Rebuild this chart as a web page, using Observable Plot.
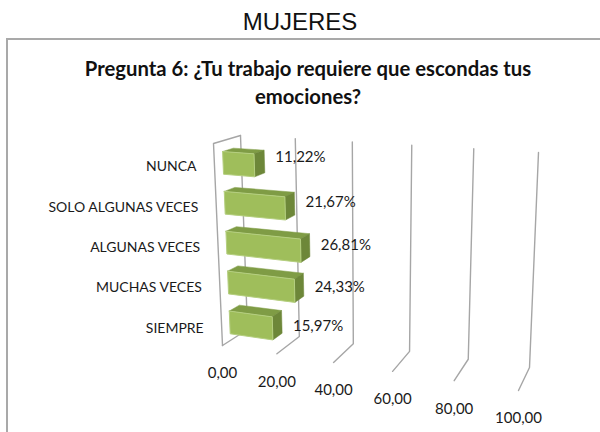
<!DOCTYPE html>
<html><head><meta charset="utf-8">
<script src="https://cdn.jsdelivr.net/npm/d3@7"></script>
<script src="https://cdn.jsdelivr.net/npm/@observablehq/plot@0.6"></script>
<style>
html,body{margin:0;padding:0;background:#fff;width:600px;height:432px;overflow:hidden}
#top{height:38px;text-align:center;font:24px/44px "Liberation Sans",Arial,sans-serif;color:#111}
#panel{box-sizing:border-box;width:600px;margin-left:6px;height:394px;border-left:2px solid #a9a9a9;border-top:2px solid #a9a9a9;overflow:hidden}
#sub{height:75px;width:600px;text-align:center;font:bold 20.3px/28px Lato,sans-serif;color:#111;padding-top:14px;box-sizing:border-box}
svg{display:block}
</style></head>
<body>
<div id="top">MUJERES</div>
<div id="panel">
<div id="sub">Pregunta 6: ¿Tu trabajo requiere que escondas tus<br>emociones?</div>
<div id="chart"></div>
</div>
<script>
const categories = ["NUNCA","SOLO ALGUNAS VECES","ALGUNAS VECES","MUCHAS VECES","SIEMPRE"];
const values = [11.22,21.67,26.81,24.33,15.97];
const valueLabels = ["11,22%","21,67%","26,81%","24,33%","15,97%"];
const ticks = [0,20,40,60,80,100];
const tickLabels = ["0,00","20,00","40,00","60,00","80,00","100,00"];

// Oblique perspective box of the 3-D chart (page pixels)
const box = {
  back:  {tl:[240,135], tr:[538,152], bl:[247,329], br:[529,367]},
  front: {tl:[213,143], tr:[526,167], bl:[222,345], br:[518,390]}
};
const k = 1.11;
const mix = (a,b,f) => a+(b-a)*f;
function project(v,t,d){
  const u = v/100, s = u/(u+k*(1-u));
  const face = p => [0,1].map(i => mix(mix(p.tl[i],p.tr[i],s), mix(p.bl[i],p.br[i],s), t));
  const f = face(box.front), b = face(box.back);
  return [mix(f[0],b[0],d), mix(f[1],b[1],d)];
}
const halfBand = 0.057, offset = 0.01, d0 = 0.32, d1 = 0.72;
const rowT = i => (i+0.5)/categories.length + offset;

const poly = (build) => categories.flatMap((c,i) => {
  const v = values[i], a = rowT(i)-halfBand, b = rowT(i)+halfBand;
  return build(v,a,b).map(p => { const q = project(...p); return {c, x:q[0], y:q[1]}; });
});
const frontFace = poly((v,a,b)=>[[0,a,d0],[v,a,d0],[v,b,d0],[0,b,d0],[0,a,d0]]);
const topFace   = poly((v,a,b)=>[[0,a,d0],[v,a,d0],[v,a,d1],[0,a,d1],[0,a,d0]]);
const sideFace  = poly((v,a,b)=>[[v,a,d0],[v,a,d1],[v,b,d1],[v,b,d0],[v,a,d0]]);

const grid = ticks.flatMap(v => [[v,1,0],[v,1,1],[v,0,1]].map(p => {
  const q = project(...p); return {v, x:q[0], y:q[1]};
}));
const wall = [[0,0,1],[0,0,0],[0,1,0]].map(p => { const q = project(...p); return {x:q[0], y:q[1]}; });

const at = (items,fn) => items.map((l,i) => { const q = fn(i); return {l, x:q[0], y:q[1]}; });
const tickText = at(tickLabels, i => project(ticks[i],1,0));
const catText  = at(categories, i => project(0,rowT(i),0));
const valText  = at(valueLabels, i => project(values[i],(rowT(i)-0.5)*1.05+0.5,d1));

const font = "Lato, sans-serif";
const chart = Plot.plot({
  width: 592, height: 317,
  margin: 0,
  x: {domain:[8,600], range:[0,592], axis:null},
  y: {domain:[115,432], range:[0,317], axis:null},
  marks: [
    Plot.line(grid, {x:"x", y:"y", z:"v", stroke:"#a6a6a6", strokeWidth:1.4}),
    Plot.line(wall, {x:"x", y:"y", stroke:"#a6a6a6", strokeWidth:1.4}),
    Plot.line(topFace,  {x:"x", y:"y", z:"c", fill:"#7f9c45", stroke:"#7f9c45", strokeWidth:0.5}),
    Plot.line(sideFace, {x:"x", y:"y", z:"c", fill:"#6d8739", stroke:"#6d8739", strokeWidth:0.5}),
    Plot.line(frontFace,{x:"x", y:"y", z:"c", fill:"#9fbe5b", stroke:"#b5cf80", strokeWidth:1}),
    Plot.text(tickText, {x:"x", y:"y", text:"l", dy:28, fontSize:15, fontFamily:font, fill:"#1a1a1a"}),
    Plot.text(catText,  {x:"x", y:"y", text:"l", dx:-18, dy:1, textAnchor:"end", fontSize:14, fontFamily:font, fill:"#1a1a1a"}),
    Plot.text(valText,  {x:"x", y:"y", text:"l", dx:11, textAnchor:"start", fontSize:15, fontFamily:font, fill:"#1a1a1a"})
  ]
});
document.getElementById("chart").appendChild(chart);
</script>
</body></html>
